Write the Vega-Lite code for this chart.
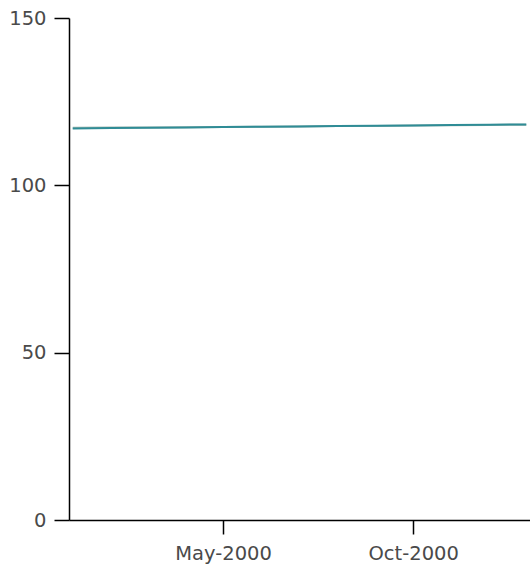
{
  "$schema": "https://vega.github.io/schema/vega-lite/v6.json",
  "width": 461,
  "height": 502,
  "autosize": {"type": "none"},
  "padding": {"left": 69, "top": 18, "right": 0, "bottom": 53},
  "background": "white",
  "config": {
    "view": {"stroke": null},
    "axis": {
      "labelFont": "DejaVu Sans",
      "labelFontSize": 19.5,
      "labelColor": "#4a4a4a",
      "domainColor": "#000000",
      "domainWidth": 1.5,
      "tickColor": "#000000",
      "tickWidth": 1.5,
      "grid": false,
      "title": null
    }
  },
  "data": {
    "values": [
      {"date": "2000-01-01", "series": "B", "value": 117.2},
      {"date": "2000-02-01", "series": "B", "value": 117.25},
      {"date": "2000-03-01", "series": "B", "value": 117.3},
      {"date": "2000-04-01", "series": "B", "value": 117.35},
      {"date": "2000-05-01", "series": "B", "value": 117.4},
      {"date": "2000-06-01", "series": "B", "value": 117.5},
      {"date": "2000-07-01", "series": "B", "value": 117.6},
      {"date": "2000-08-01", "series": "B", "value": 117.7},
      {"date": "2000-09-01", "series": "B", "value": 117.75},
      {"date": "2000-10-01", "series": "B", "value": 117.85},
      {"date": "2000-11-01", "series": "B", "value": 117.95},
      {"date": "2000-12-01", "series": "B", "value": 118.05},
      {"date": "2000-12-31", "series": "B", "value": 118.1},
      {"date": "2000-01-01", "series": "A", "value": 117.0},
      {"date": "2000-02-01", "series": "A", "value": 117.1},
      {"date": "2000-03-01", "series": "A", "value": 117.2},
      {"date": "2000-04-01", "series": "A", "value": 117.3},
      {"date": "2000-05-01", "series": "A", "value": 117.4},
      {"date": "2000-06-01", "series": "A", "value": 117.5},
      {"date": "2000-07-01", "series": "A", "value": 117.6},
      {"date": "2000-08-01", "series": "A", "value": 117.7},
      {"date": "2000-09-01", "series": "A", "value": 117.8},
      {"date": "2000-10-01", "series": "A", "value": 117.9},
      {"date": "2000-11-01", "series": "A", "value": 118.0},
      {"date": "2000-12-01", "series": "A", "value": 118.1},
      {"date": "2000-12-31", "series": "A", "value": 118.2}
    ]
  },
  "mark": {"type": "line", "strokeWidth": 2},
  "encoding": {
    "x": {
      "field": "date",
      "type": "temporal",
      "scale": {
        "type": "utc",
        "domain": [
          {"year": 1999, "month": 12, "date": 29, "utc": true},
          {"year": 2001, "month": 1, "date": 3, "utc": true}
        ]
      },
      "axis": {
        "values": [
          {"year": 2000, "month": 5, "date": 1, "utc": true},
          {"year": 2000, "month": 10, "date": 1, "utc": true}
        ],
        "format": "%b-%Y",
        "tickSize": 14,
        "labelPadding": 10
      }
    },
    "y": {
      "field": "value",
      "type": "quantitative",
      "scale": {"domain": [0, 150], "nice": false, "zero": true},
      "axis": {"values": [0, 50, 100, 150], "tickSize": 15, "labelPadding": 8}
    },
    "color": {
      "field": "series",
      "type": "nominal",
      "scale": {"domain": ["A", "B"], "range": ["#2f8c96", "#a3b8b0"]},
      "legend": null
    }
  }
}
